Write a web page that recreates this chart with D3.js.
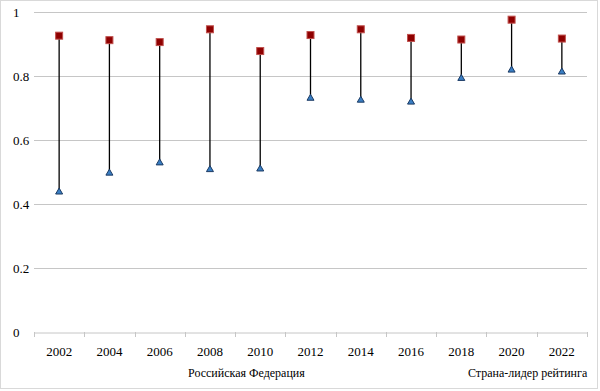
<html lang="ru">
<head>
<meta charset="utf-8">
<title>Российская Федерация и страна-лидер</title>
<script src="https://d3js.org/d3.v7.min.js"></script>
<style>
  body { margin: 0; background: #fff; }
</style>
</head>
<body>
<svg width="600" height="391" font-family="Liberation Serif"></svg>
<script>
// data
var years = ["2002", "2004", "2006", "2008", "2010", "2012", "2014", "2016", "2018", "2020", "2022"];
var russia = [0.439, 0.498, 0.530, 0.509, 0.511, 0.732, 0.726, 0.720, 0.794, 0.820, 0.814];
var leader = [0.926, 0.912, 0.906, 0.946, 0.878, 0.928, 0.946, 0.919, 0.914, 0.976, 0.917];
var yTicks = [0, 0.2, 0.4, 0.6, 0.8, 1];
var seriesNames = ["Российская Федерация", "Страна-лидер рейтинга"];

var FONT = "Liberation Serif, DejaVu Serif, serif";
var svg = d3.select("svg");
var plotLeft = 34, plotRight = 587, plotTop = 12, plotBottom = 332;

// outer frame
svg.append("rect")
  .attr("x", 0.5).attr("y", 0.5)
  .attr("width", 597).attr("height", 388)
  .attr("fill", "#fff").attr("stroke", "#d9d9d9");

var x = d3.scaleBand().domain(years).range([plotLeft, plotRight]);
var y = d3.scaleLinear().domain([0, 1]).range([plotBottom, plotTop]);

// gridlines
svg.append("g")
  .selectAll("line")
  .data(yTicks.filter(function(d) { return d > 0; }))
  .enter().append("line")
  .attr("x1", plotLeft).attr("x2", plotRight)
  .attr("y1", function(d) { return Math.round(y(d)) + 0.5; })
  .attr("y2", function(d) { return Math.round(y(d)) + 0.5; })
  .attr("stroke", "#c6c6c6");

// y labels (left aligned like the original)
svg.append("g")
  .selectAll("text")
  .data(yTicks)
  .enter().append("text")
  .attr("x", 13)
  .attr("y", function(d) { return y(d) + 4.5; })
  .attr("font-family", FONT)
  .attr("font-size", 13)
  .text(function(d) { return d === 0 || d === 1 ? d : d.toFixed(1); });

// x axis
var xAxis = svg.append("g")
  .attr("transform", "translate(0," + (Math.round(plotBottom) + 0.5) + ")")
  .call(d3.axisBottom(x).tickSize(0).tickPadding(14))
  .attr("font-family", FONT)
  .attr("font-size", 13);
xAxis.select(".domain").attr("stroke", "#c6c6c6");
xAxis.selectAll("text").attr("fill", "#000");

// category separators
svg.append("g")
  .selectAll("line")
  .data(years.concat(["end"]))
  .enter().append("line")
  .attr("x1", function(d, i) { return Math.round(plotLeft + i * x.step()) + 0.5; })
  .attr("x2", function(d, i) { return Math.round(plotLeft + i * x.step()) + 0.5; })
  .attr("y1", plotBottom).attr("y2", plotBottom + 5)
  .attr("stroke", "#c6c6c6");

var cx = function(i) { return x(years[i]) + x.bandwidth() / 2; };

// high-low lines
svg.append("g")
  .selectAll("line")
  .data(years)
  .enter().append("line")
  .attr("x1", function(d, i) { return cx(i); })
  .attr("x2", function(d, i) { return cx(i); })
  .attr("y1", function(d, i) { return y(russia[i]); })
  .attr("y2", function(d, i) { return y(leader[i]); })
  .attr("stroke", "#000").attr("stroke-width", 1.3);

// Russia: triangles
svg.append("g")
  .selectAll("path")
  .data(russia)
  .enter().append("path")
  .attr("transform", function(d, i) { return "translate(" + cx(i) + "," + y(d) + ")"; })
  .attr("d", "M0,-3.5L3.5,2.5L-3.5,2.5Z")
  .attr("fill", "#3a7fc4").attr("stroke", "#1b3a63").attr("stroke-width", 1);

// leader: squares
svg.append("g")
  .selectAll("rect")
  .data(leader)
  .enter().append("rect")
  .attr("x", function(d, i) { return cx(i) - 3.5; })
  .attr("y", function(d) { return y(d) - 3.5; })
  .attr("width", 7).attr("height", 7)
  .attr("fill", "#8e0000").attr("stroke", "#c0504d").attr("stroke-width", 1);

// legend (text only, as in the picture)
svg.append("g")
  .selectAll("text")
  .data(seriesNames)
  .enter().append("text")
  .attr("x", function(d, i) { return i === 0 ? 188 : 468; })
  .attr("y", 377)
  .attr("font-family", FONT)
  .attr("font-size", 12)
  .text(function(d) { return d; });
</script>
</body>
</html>
